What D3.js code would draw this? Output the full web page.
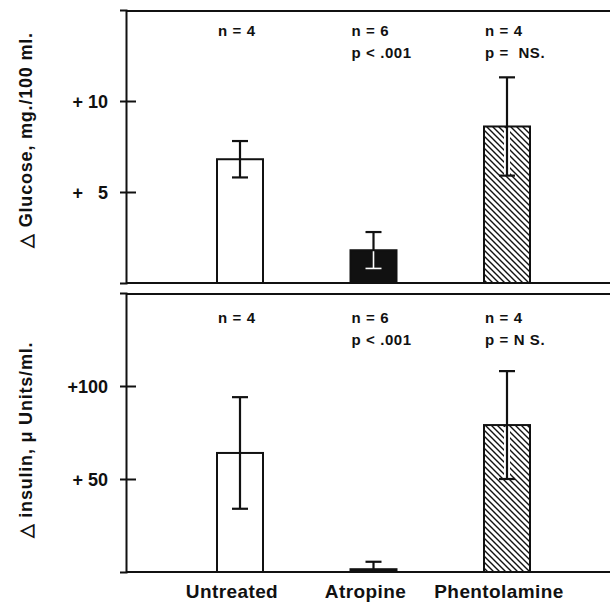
<!DOCTYPE html>
<html>
<head>
  <meta charset="utf-8">
  <title>Glucose and insulin response</title>
  <script src="https://d3js.org/d3.v7.min.js"></script>
  <style>
    body { margin: 0; background: #fff; }
    text { font-family: "Liberation Sans", Arial, sans-serif; font-weight: bold; fill: #111; white-space: pre; }
  </style>
</head>
<body>
<svg id="chart" width="610" height="605"></svg>
<script>
  "use strict";

  // data
  var groups = ['Untreated', 'Atropine', 'Phentolamine'];
  var fills = ['open', 'solid', 'hatch'];

  var glucoseMean = [6.8, 1.8, 8.6];
  var glucoseErr = [1.0, 1.0, 2.7];
  var glucoseTicks = [5, 10];
  var glucoseTickLabels = ['+   5', '+ 10'];
  var glucoseNotes = [['n = 4'], ['n = 6', 'p < .001'], ['n = 4', 'p =  NS.']];

  var insulinMean = [64, 1.5, 79];
  var insulinErr = [30, 4, 29];
  var insulinTicks = [50, 100];
  var insulinTickLabels = ['+ 50', '+100'];
  var insulinNotes = [['n = 4'], ['n = 6', 'p < .001'], ['n = 4', 'p = N S.']];

  var svg = d3.select('#chart');
  var axisX = 126;
  var barW = 46;

  var x = d3.scalePoint().domain(groups).range([240, 507]);

  // hatch pattern for phentolamine
  var defs = svg.append('defs');
  var pat = defs.append('pattern')
    .attr('id', 'hatch')
    .attr('patternUnits', 'userSpaceOnUse')
    .attr('width', 6).attr('height', 6);
  pat.append('rect').attr('width', 6).attr('height', 6).attr('fill', '#fff');
  pat.append('path')
    .attr('d', 'M0,0L6,6M-1,5L1,7M5,-1L7,1')
    .attr('stroke', '#111').attr('stroke-width', 1.4);

  function panel(opts) {
    var y = d3.scaleLinear().domain(opts.domain).range([opts.bottom, opts.top]);
    var g = svg.append('g');

    // frame lines
    g.append('line')
      .attr('x1', axisX).attr('x2', 610)
      .attr('y1', opts.top + 1).attr('y2', opts.top + 1)
      .attr('stroke', '#111').attr('stroke-width', 2);
    g.append('line')
      .attr('x1', axisX).attr('x2', 610)
      .attr('y1', y(0)).attr('y2', y(0))
      .attr('stroke', '#111').attr('stroke-width', 2);

    var axis = g.append('g')
      .attr('transform', 'translate(' + axisX + ',0)')
      .call(d3.axisLeft(y)
        .tickValues(opts.ticks)
        .tickFormat(function(d, i) { return opts.tickLabels[i]; })
        .tickSizeOuter(0)
        .tickSize(6)
        .tickPadding(12));
    axis.select('.domain').attr('stroke', '#111').attr('stroke-width', 2);
    axis.selectAll('.tick line')
      .attr('x1', -6).attr('x2', 10)
      .attr('stroke', '#111').attr('stroke-width', 2);
    axis.selectAll('.tick text')
      .attr('font-size', 18)
      .attr('font-family', '"Liberation Sans", Arial, sans-serif')
      .attr('font-weight', 'bold')
      .attr('fill', '#111')
      .attr('dy', '0.36em');

    // bars
    groups.forEach(function(name, i) {
      var cx = x(name);
      var v = opts.mean[i], e = opts.err[i];
      var f = fills[i];
      g.append('rect')
        .attr('x', cx - barW / 2)
        .attr('y', y(v))
        .attr('width', barW)
        .attr('height', y(0) - y(v))
        .attr('fill', f === 'solid' ? '#111' : (f === 'hatch' ? 'url(#hatch)' : '#fff'))
        .attr('stroke', '#111')
        .attr('stroke-width', 2);

      var hi = y(v + e);
      var lo = y(Math.max(v - e, 0));
      var cap = 8;
      // white halo through the hatch
      if (f === 'hatch') {
        g.append('line')
          .attr('x1', cx).attr('x2', cx)
          .attr('y1', y(v) + 2).attr('y2', lo)
          .attr('stroke', '#fff').attr('stroke-width', 6);
      }
      var eg = g.append('g').attr('stroke', '#111').attr('stroke-width', 2.2);
      eg.append('line').attr('x1', cx).attr('x2', cx).attr('y1', hi).attr('y2', lo);
      eg.append('line').attr('x1', cx - cap).attr('x2', cx + cap).attr('y1', hi).attr('y2', hi);
      if (v - e > 0) {
        eg.append('line').attr('x1', cx - cap).attr('x2', cx + cap).attr('y1', lo).attr('y2', lo);
      }
      // inside a black bar the lower half shows in white
      if (f === 'solid' && v - e > 0) {
        var wg = g.append('g').attr('stroke', '#fff').attr('stroke-width', 1.6);
        wg.append('line').attr('x1', cx).attr('x2', cx).attr('y1', y(v) + 1).attr('y2', lo);
        wg.append('line').attr('x1', cx - cap).attr('x2', cx + cap).attr('y1', lo).attr('y2', lo);
      }

      // n / p notes
      opts.notes[i].forEach(function(t, k) {
        g.append('text')
          .attr('x', cx - barW / 2 + 1)
          .attr('y', opts.noteY + k * 22)
          .attr('font-size', 15)
          .attr('letter-spacing', 0.6)
          .text(t);
      });
    });

    // rotated axis title
    g.append('text')
      .attr('transform', 'translate(' + 32 + ',' + opts.titleY + ') rotate(-90)')
      .attr('text-anchor', 'middle')
      .attr('font-size', 18)
      .attr('letter-spacing', 0.8)
      .text(opts.title);

    return y;
  }

  panel({
    domain: [0, 15], top: 10, bottom: 283,
    mean: glucoseMean, err: glucoseErr,
    ticks: glucoseTicks, tickLabels: glucoseTickLabels,
    notes: glucoseNotes, noteY: 36,
    title: '\u25B3 Glucose, mg./100 ml.', titleY: 140
  });

  panel({
    domain: [0, 150], top: 293, bottom: 572,
    mean: insulinMean, err: insulinErr,
    ticks: insulinTicks, tickLabels: insulinTickLabels,
    notes: insulinNotes, noteY: 323,
    title: '\u25B3 insulin, \u03BC Units/ml.', titleY: 440
  });

  // category labels under the lower panel
  svg.append('g').selectAll('text')
    .data(groups)
    .join('text')
    .attr('x', function(d) { return x(d) - 8; })
    .attr('y', 598)
    .attr('text-anchor', 'middle')
    .attr('font-size', 19)
    .attr('letter-spacing', 0.4)
    .text(function(d) { return d; });
</script>
</body>
</html>
